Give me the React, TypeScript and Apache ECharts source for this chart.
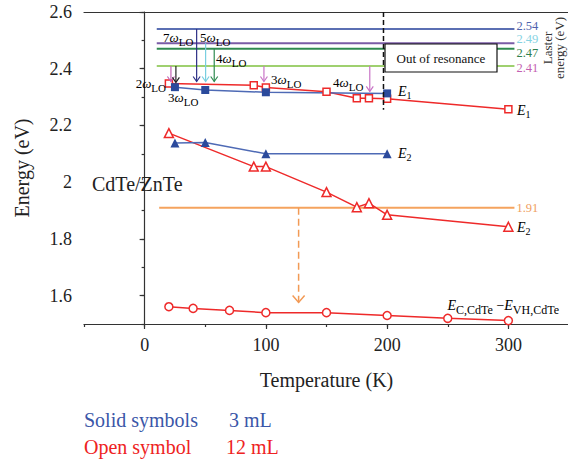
import { useEffect, useRef } from "react";
import * as echarts from "echarts";

const FONT = "Liberation Serif";

// ---- data ----
const blueE1T = [25, 50, 100, 200];
const blueE1 = [2.335, 2.325, 2.317, 2.313];
const redE1T = [20, 90, 100, 150, 175, 185, 200, 300];
const redE1 = [2.348, 2.342, 2.334, 2.319, 2.296, 2.296, 2.294, 2.257];
const blueE2T = [25, 50, 100, 200];
const blueE2 = [2.138, 2.14, 2.1, 2.1];
const redE2T = [20, 90, 100, 150, 175, 185, 200, 300];
const redE2 = [2.173, 2.055, 2.055, 1.965, 1.912, 1.926, 1.885, 1.843];
const gapT = [20, 40, 70, 100, 150, 200, 250, 300];
const gapE = [1.561, 1.555, 1.548, 1.54, 1.54, 1.53, 1.52, 1.512];

const levelE = [2.54, 2.49, 2.47, 2.41, 1.91];
const levelLabels = ["2.54", "2.49", "2.47", "2.41", "1.91"];
const levelStartT = [10, 10, 10, 10, 12];
const levelEndT = [305, 305, 305, 305, 305];

const phononT = [21.7, 25.8, 42.9, 50.3, 57.4, 98.4, 185.7];
const phononFrom = [2.41, 2.41, 2.54, 2.49, 2.47, 2.41, 2.41];
const phononTo = [2.355, 2.352, 2.355, 2.355, 2.355, 2.355, 2.32];

const resonanceT = [197];
const resonanceTop = [2.6];
const resonanceBottom = [2.255];
const dropT = [127];
const dropFrom = [1.91];
const dropTo = [1.576];

const xTicks = [0, 100, 200, 300];
const yTicks = [1.6, 1.8, 2, 2.2, 2.4, 2.6];

// ---- styles ----
const RED = "#ee2a2a";
const BLUE_MARK = "#2b4a9c";
const BLUE_LINE = "#4e6ab5";
const AXIS = "#333333";
const levelLineColors = ["#5b6fb3", "#7a5ba6", "#2f8a50", "#9fd06f", "#f5a35e"];
const levelLabelColors = ["#4f63ad", "#86d3e3", "#2f7f4c", "#c45fb2", "#f0a060"];
const levelLabelDy = [-3, -4, 4.5, 2, 0];
const phononColors = ["#c462b6", "#222222", "#2d2f86", "#78cfe0", "#2f8a50", "#c874c6", "#c874c6"];

const zip = (a: number[], b: number[]) => a.map((v, i) => [v, b[i]]);

const subRich = (main: number, sub: number, color: string) => ({
  m: { fontSize: main, fontFamily: FONT, color },
  w: { fontSize: main, fontFamily: FONT, color, fontStyle: "italic" },
  s: { fontSize: sub, fontFamily: FONT, color, padding: [10, 0, 0, 0] },
});

const omegaLabel = (n: string, color: string, x: number, y: number, align = "left") => ({
  type: "text",
  x,
  y,
  z: 20,
  style: {
    text: `{m|${n}}{w|ω}{s|LO}`,
    rich: subRich(13, 11, color),
    align,
    verticalAlign: "middle",
  },
});

const eLabel = (sub: string, color: string, x: number, y: number) => ({
  type: "text",
  x,
  y,
  z: 20,
  style: {
    text: `{w|E}{s|${sub}}`,
    rich: { ...subRich(14, 10, color), s: { fontSize: 10, fontFamily: FONT, color, padding: [9, 0, 0, 0] } },
    align: "left",
    verticalAlign: "middle",
  },
});

const plainText = (text: string, color: string, size: number, x: number, y: number, align = "left") => ({
  type: "text",
  x,
  y,
  z: 20,
  style: { text, fill: color, fontSize: size, fontFamily: FONT, align, verticalAlign: "middle" },
});

export default function App() {
  const ref = useRef<HTMLDivElement>(null);

  useEffect(() => {
    if (!ref.current) return;
    const chart = echarts.init(ref.current, undefined, { renderer: "svg" });

    const lineSeries = (data: number[][], symbol: string, size: number, filled: boolean, mark: string, line: string) => ({
      type: "line",
      data,
      symbol,
      symbolSize: size,
      showAllSymbol: true,
      z: 3,
      lineStyle: { color: line, width: 1.5 },
      itemStyle: { color: filled ? mark : "#ffffff", borderColor: mark, borderWidth: filled ? 0 : 1.5 },
      emphasis: { disabled: true },
    });

    const option: any = {
      animation: false,
      backgroundColor: "#ffffff",
      textStyle: { fontFamily: FONT },
      grid: { left: 84, right: -1, top: 12, bottom: 138, containLabel: false, outerBoundsMode: "none" },
      xAxis: [
        {
          type: "value",
          position: "bottom",
          min: -50,
          max: 350,
          axisLine: { show: true, lineStyle: { color: AXIS, width: 1.2 } },
          axisTick: { show: true, customValues: xTicks, length: 5, lineStyle: { color: AXIS, width: 1.2 } },
          axisLabel: { customValues: xTicks, fontSize: 18, fontFamily: FONT, color: "#222", margin: 12 },
          splitLine: { show: false },
          name: "Temperature (K)",
          nameLocation: "middle",
          nameGap: 46,
          nameTextStyle: { fontSize: 20, fontFamily: FONT, color: "#222" },
        },
        {
          type: "value",
          position: "bottom",
          min: -50,
          max: 350,
          interval: 50,
          axisLine: { show: false },
          axisTick: { show: true, length: 3, lineStyle: { color: AXIS, width: 1.2 } },
          axisLabel: { show: false },
          splitLine: { show: false },
        },
        {
          type: "value",
          position: "top",
          min: -50,
          max: 350,
          axisLine: { show: true, lineStyle: { color: AXIS, width: 1.2 } },
          axisTick: { show: false },
          axisLabel: { show: false },
          splitLine: { show: false },
        },
      ],
      yAxis: [
        {
          type: "value",
          position: "left",
          min: 1.5,
          max: 2.6,
          axisLine: { show: true, lineStyle: { color: AXIS, width: 1.2 } },
          axisTick: { show: true, customValues: yTicks, length: 5, lineStyle: { color: AXIS, width: 1.2 } },
          axisLabel: { customValues: yTicks, fontSize: 18, fontFamily: FONT, color: "#222", margin: 12 },
          splitLine: { show: false },
          name: "Energy (eV)",
          nameLocation: "middle",
          nameGap: 52,
          nameTextStyle: { fontSize: 20, fontFamily: FONT, color: "#222" },
        },
        {
          type: "value",
          position: "left",
          min: 1.5,
          max: 2.6,
          interval: 0.1,
          axisLine: { show: false },
          axisTick: { show: true, length: 3, lineStyle: { color: AXIS, width: 1.2 } },
          axisLabel: { show: false },
          splitLine: { show: false },
        },
      ],
      series: [
        {
          type: "custom",
          z: 1,
          silent: true,
          data: levelE.map((e, i) => [levelStartT[i], levelEndT[i], e]),
          encode: { x: [0, 1], y: 2 },
          renderItem: (params: any, api: any) => {
            const i = params.dataIndex;
            const a = api.coord([api.value(0), api.value(2)]);
            const b = api.coord([api.value(1), api.value(2)]);
            return {
              type: "group",
              children: [
                { type: "line", shape: { x1: a[0], y1: a[1], x2: b[0], y2: b[1] }, style: { stroke: levelLineColors[i], lineWidth: 2 } },
                {
                  type: "text",
                  x: b[0] + 2,
                  y: a[1] + levelLabelDy[i],
                  style: { text: levelLabels[i], fill: levelLabelColors[i], fontSize: 12.5, fontFamily: FONT, align: "left", verticalAlign: "middle" },
                },
              ],
            };
          },
        },
        lineSeries(zip(redE1T, redE1), "rect", 7, false, RED, RED),
        lineSeries(zip(blueE1T, blueE1), "rect", 8, true, BLUE_MARK, BLUE_LINE),
        lineSeries(zip(redE2T, redE2), "triangle", 9, false, RED, RED),
        lineSeries(zip(blueE2T, blueE2), "triangle", 9, true, BLUE_MARK, BLUE_LINE),
        lineSeries(zip(gapT, gapE), "circle", 8, false, RED, RED),
        {
          type: "custom",
          z: 5,
          silent: true,
          data: phononT.map((t, i) => [t, phononFrom[i], phononTo[i]]),
          encode: { x: 0, y: [1, 2] },
          renderItem: (params: any, api: any) => {
            const c = phononColors[params.dataIndex];
            const a = api.coord([api.value(0), api.value(1)]);
            const b = api.coord([api.value(0), api.value(2)]);
            return {
              type: "group",
              children: [
                { type: "line", shape: { x1: a[0], y1: a[1], x2: b[0], y2: b[1] }, style: { stroke: c, lineWidth: 1.2 } },
                {
                  type: "polyline",
                  shape: { points: [[b[0] - 3.5, b[1] - 5], [b[0], b[1]], [b[0] + 3.5, b[1] - 5]] },
                  style: { stroke: c, lineWidth: 1.2, fill: "none" },
                },
              ],
            };
          },
        },
        {
          type: "custom",
          z: 4,
          silent: true,
          data: resonanceT.map((t, i) => [t, resonanceTop[i], resonanceBottom[i]]),
          encode: { x: 0, y: [1, 2] },
          renderItem: (params: any, api: any) => {
            const a = api.coord([api.value(0), api.value(1)]);
            const b = api.coord([api.value(0), api.value(2)]);
            return { type: "line", shape: { x1: a[0], y1: a[1], x2: b[0], y2: b[1] }, style: { stroke: "#111", lineWidth: 1.5, lineDash: [5, 3] } };
          },
        },
        {
          type: "custom",
          z: 4,
          silent: true,
          data: dropT.map((t, i) => [t, dropFrom[i], dropTo[i]]),
          encode: { x: 0, y: [1, 2] },
          renderItem: (params: any, api: any) => {
            const a = api.coord([api.value(0), api.value(1)]);
            const b = api.coord([api.value(0), api.value(2)]);
            const c = "#f29a55";
            return {
              type: "group",
              children: [
                { type: "line", shape: { x1: a[0], y1: a[1], x2: b[0], y2: b[1] }, style: { stroke: c, lineWidth: 1.5, lineDash: [7, 4] } },
                {
                  type: "polyline",
                  shape: { points: [[b[0] - 6, b[1] - 7], [b[0], b[1]], [b[0] + 6, b[1] - 7]] },
                  style: { stroke: c, lineWidth: 1.5, fill: "none" },
                },
              ],
            };
          },
        },
      ],
      graphic: [
        {
          type: "rect",
          z: 30,
          shape: { x: 385, y: 44, width: 112, height: 28 },
          style: { fill: "#ffffff", stroke: "#111", lineWidth: 1.2 },
        },
        { ...plainText("Out of resonance", "#111", 13, 441, 58, "center"), z: 31 },
        {
          type: "text",
          x: 553,
          y: 48,
          z: 20,
          rotation: Math.PI / 2,
          style: {
            text: "Laster\nenergy (eV)",
            fill: "#333",
            fontSize: 13,
            fontFamily: FONT,
            lineHeight: 12,
            align: "center",
            verticalAlign: "middle",
          },
        },
        omegaLabel("2", "#c462b6", 166, 83, "right"),
        omegaLabel("3", "#222222", 168, 97),
        omegaLabel("7", "#3b3d8c", 163, 37),
        omegaLabel("5", "#86d3e3", 200, 37),
        omegaLabel("4", "#2f8a50", 216, 58),
        omegaLabel("3", "#c462b6", 271, 79),
        omegaLabel("4", "#c462b6", 333, 82),
        eLabel("1", "#3d5aa8", 398, 91),
        eLabel("1", RED, 517, 110),
        eLabel("2", "#3d5aa8", 398, 153),
        eLabel("2", RED, 517, 227),
        {
          type: "text",
          x: 559,
          y: 305,
          z: 20,
          style: {
            text: "{w|E}{s|C,CdTe}{m| −}{w|E}{s|VH,CdTe}",
            rich: { ...subRich(14, 12, RED), s: { fontSize: 12, fontFamily: FONT, color: RED, padding: [10, 0, 0, 0] } },
            align: "right",
            verticalAlign: "middle",
          },
        },
        plainText("CdTe/ZnTe", "#222", 20, 92, 184),
        plainText("Solid symbols", "#3a56a8", 20, 84, 420),
        plainText("3 mL", "#3a56a8", 20, 229, 420),
        plainText("Open symbol", "#ee2222", 20, 84, 447),
        plainText("12 mL", "#ee2222", 20, 226, 447),
      ],
    };

    chart.setOption(option);
    return () => chart.dispose();
  }, []);

  return <div ref={ref} style={{ position: "fixed", left: 0, top: 0, width: 568, height: 462 }} />;
}
